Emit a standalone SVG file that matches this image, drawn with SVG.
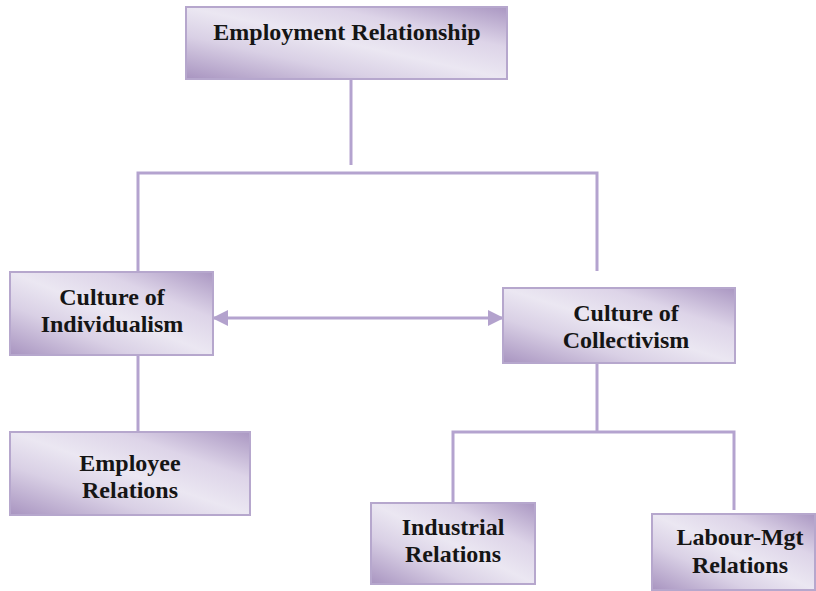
<svg xmlns="http://www.w3.org/2000/svg" width="816" height="591" viewBox="0 0 816 591">
  <defs>
    <!-- diagonal lavender sheen used by every box -->
    <linearGradient id="boxFill" x1="0" y1="1" x2="1" y2="0">
      <stop offset="0" stop-color="#a894c0"/>
      <stop offset="0.3" stop-color="#d9d0e5"/>
      <stop offset="0.5" stop-color="#ebe7f2"/>
      <stop offset="0.72" stop-color="#ddd4e8"/>
      <stop offset="1" stop-color="#aa97c2"/>
    </linearGradient>
    <marker id="arrow" viewBox="0 0 16 16" refX="15" refY="8" markerWidth="16" markerHeight="16" markerUnits="userSpaceOnUse" orient="auto-start-reverse">
      <path d="M0,0 L16,8 L0,16 Z" fill="#b3a2cd"/>
    </marker>
  </defs>
  <style>
    .box { fill: url(#boxFill); stroke: #b6a7cd; stroke-width: 2; }
    .label { font-family: 'Liberation Serif', 'Times New Roman', serif; font-weight: 700; font-size: 24px; fill: #151515; text-anchor: middle; }
    .wire { fill: none; stroke: #b4a3cf; stroke-width: 3; }
  </style>

  <rect width="816" height="591" fill="#ffffff"/>

  <g id="connectors">
    <line class="wire" x1="351" y1="79" x2="351" y2="165"/>
    <polyline class="wire" points="138,272 138,173 597,173 597,271"/>
    <line class="wire" x1="138" y1="355" x2="138" y2="432"/>
    <line class="wire" x1="597" y1="364" x2="597" y2="432"/>
    <polyline class="wire" points="453,503 453,432 734,432 734,510"/>
    <line class="wire" stroke-width="2.5" x1="213" y1="318" x2="503" y2="318" marker-start="url(#arrow)" marker-end="url(#arrow)"/>
  </g>

  <g id="employment-relationship">
    <rect class="box" x="186" y="7" width="321" height="72"/>
    <text class="label" x="347" y="40">Employment Relationship</text>
  </g>

  <g id="culture-of-individualism">
    <rect class="box" x="10" y="272" width="203" height="83"/>
    <text class="label" x="112" y="305">Culture of</text>
    <text class="label" x="112" y="332">Individualism</text>
  </g>

  <g id="culture-of-collectivism">
    <rect class="box" x="503" y="288" width="232" height="75"/>
    <text class="label" x="626" y="321">Culture of</text>
    <text class="label" x="626" y="348">Collectivism</text>
  </g>

  <g id="employee-relations">
    <rect class="box" x="10" y="432" width="240" height="83"/>
    <text class="label" x="130" y="471">Employee</text>
    <text class="label" x="130" y="498">Relations</text>
  </g>

  <g id="industrial-relations">
    <rect class="box" x="371" y="503" width="164" height="81"/>
    <text class="label" x="453" y="535">Industrial</text>
    <text class="label" x="453" y="562">Relations</text>
  </g>

  <g id="labour-mgt-relations">
    <rect class="box" x="652" y="514" width="163" height="76"/>
    <text class="label" x="740" y="545">Labour-Mgt</text>
    <text class="label" x="740" y="573">Relations</text>
  </g>
</svg>
